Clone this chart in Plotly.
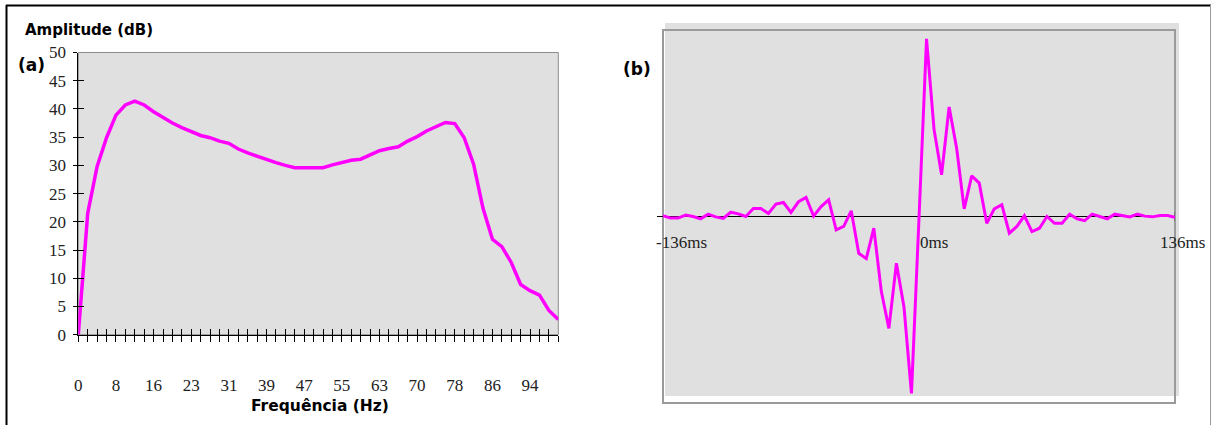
import plotly.graph_objects as go

# ---------------- data ----------------
# (a) amplitude spectrum, one value per frequency bin (bin width ~1.95 Hz)
amplitude_db = [0, 21.5, 29.8, 34.9, 38.9, 40.7, 41.4, 40.7, 39.5, 38.5,
                37.5, 36.7, 36.0, 35.3, 34.9, 34.3, 33.9, 32.9, 32.2, 31.6,
                31.0, 30.5, 30.0, 29.6, 29.6, 29.6, 29.6, 30.1, 30.5, 30.9,
                31.1, 31.9, 32.6, 33.0, 33.3, 34.3, 35.1, 36.1, 36.8, 37.6,
                37.4, 34.9, 30.2, 22.4, 16.9, 15.6, 12.8, 8.9, 7.8, 7.0,
                4.3, 2.7]
freq_bins = list(range(len(amplitude_db)))
freq_tick_text = ["0", "8", "16", "23", "31", "39", "47", "55", "63", "70", "78", "86", "94"]
freq_tick_step = 4
amp_ticks = [0, 5, 10, 15, 20, 25, 30, 35, 40, 45, 50]

# (b) wavelet in time, 4 ms sampling
time_ms = list(range(-136, 137, 4))
wavelet = [0.004, -0.009, -0.009, 0.008, 0.0, -0.013, 0.013, -0.002, -0.011, 0.024,
           0.015, 0.0, 0.045, 0.045, 0.017, 0.070, 0.079, 0.023, 0.083, 0.107,
           0.002, 0.056, 0.094, -0.075, -0.056, 0.032, -0.207, -0.237, -0.066, -0.423,
           -0.630, -0.263, -0.508, -0.996, -0.01, 1.0, 0.489, 0.235, 0.617, 0.385,
           0.043, 0.229, 0.188, -0.038, 0.043, 0.066, -0.094, -0.056, 0.004, -0.085,
           -0.066, 0.0, -0.038, -0.038, 0.013, -0.013, -0.023, 0.013, 0.0, -0.013,
           0.013, 0.006, -0.002, 0.013, 0.002, -0.002, 0.006, 0.006, -0.004]
time_tick_vals = [-136, 0, 136]
time_tick_text = ["-136ms", "0ms", "136ms"]
time_tick_shift = [-9, -1, -17]

# ---------------- layout helpers ----------------
W, H = 1212, 425
def px(x):
    return x / W
def py(y):
    return 1 - y / H

MAGENTA = "#FF00FF"
GRAYBG = "#E0E0E0"
SERIF = "Liberation Serif"
BOLDSANS = "DejaVu Sans"

fig = go.Figure()

fig.add_trace(go.Scatter(x=freq_bins, y=amplitude_db, mode="lines",
                         line=dict(color=MAGENTA, width=3.5),
                         xaxis="x", yaxis="y", showlegend=False, hoverinfo="skip"))
# helper (empty) trace so the overlay axes (inside tick halves) get drawn
fig.add_trace(go.Scatter(x=[None], y=[None], xaxis="x3", yaxis="y3",
                         showlegend=False, hoverinfo="skip"))
fig.add_trace(go.Scatter(x=time_ms, y=wavelet, mode="lines",
                         line=dict(color=MAGENTA, width=3),
                         xaxis="x2", yaxis="y2", showlegend=False, hoverinfo="skip"))

xdom_a = [px(78.3), px(558.3)]
ydom_a = [py(334.7), py(52.5)]
xdom_b = [px(663), px(1175)]
ydom_b = [py(403), py(30)]

freq_tick_vals = freq_bins
freq_tick_labels = []
k = 0
for i in freq_bins:
    if i % freq_tick_step == 0 and k < len(freq_tick_text):
        freq_tick_labels.append(freq_tick_text[k])
        k += 1
    else:
        freq_tick_labels.append("")

common_tick = dict(tickcolor="black", tickwidth=1, showgrid=False, zeroline=False, automargin=False)

fig.update_layout(
    width=W, height=H,
    margin=dict(l=0, r=0, t=0, b=0, pad=0),
    paper_bgcolor="white", plot_bgcolor="rgba(0,0,0,0)",
    xaxis=dict(domain=xdom_a, anchor="y", range=[0, len(amplitude_db) - 1],
               tickmode="array", tickvals=freq_tick_vals, ticktext=freq_tick_labels,
               ticks="outside", ticklen=6, showline=True, linecolor="black", linewidth=1,
               tickfont=dict(family=SERIF, size=17, color="#222"),
               ticklabelstandoff=29, **common_tick),
    yaxis=dict(domain=ydom_a, anchor="x", range=[0, 50],
               tickmode="array", tickvals=amp_ticks,
               ticks="outside", ticklen=4, showline=True, linecolor="black", linewidth=1,
               tickfont=dict(family=SERIF, size=17, color="#222"),
               ticklabelstandoff=4, **common_tick),
    xaxis3=dict(domain=xdom_a, anchor="y3", overlaying="x", range=[0, len(amplitude_db) - 1],
                tickmode="array", tickvals=freq_tick_vals, showticklabels=False,
                ticks="inside", ticklen=6, showline=False, **common_tick),
    yaxis3=dict(domain=ydom_a, anchor="x3", overlaying="y", range=[0, 50],
                tickmode="array", tickvals=amp_ticks, showticklabels=False,
                ticks="inside", ticklen=6, showline=False, **common_tick),
    xaxis2=dict(domain=xdom_b, anchor="y2", range=[-136, 136], visible=False, automargin=False),
    yaxis2=dict(domain=ydom_b, anchor="x2", range=[-1.05, 1.05], visible=False, automargin=False),
)

shapes = []
# panel (a) gray plot area with gray top/right frame
shapes.append(dict(type="rect", xref="x domain", yref="y domain", x0=0, x1=1, y0=0, y1=1,
                   fillcolor=GRAYBG, line=dict(color="#8C8C8C", width=1), layer="below"))
# panel (b) shifted gray fill and frame
shapes.append(dict(type="rect", xref="paper", yref="paper", x0=px(665), x1=px(1179),
                   y0=py(396), y1=py(23), fillcolor=GRAYBG, line=dict(width=0), layer="below"))
shapes.append(dict(type="rect", xref="x2 domain", yref="y2 domain", x0=0, x1=1, y0=0, y1=1,
                   fillcolor="rgba(0,0,0,0)", line=dict(color="#9A9A9A", width=2), layer="below"))
# panel (b) zero axis line
shapes.append(dict(type="line", xref="paper", yref="y2", x0=px(657), x1=px(1175), y0=0, y1=0,
                   line=dict(color="black", width=1), layer="below"))
shapes.append(dict(type="line", xref="x2", yref="paper", x0=136, x1=136, y0=py(212), y1=py(221),
                   line=dict(color="#555", width=1), layer="below"))
# outer figure border
shapes.append(dict(type="line", xref="paper", yref="paper", x0=px(6), x1=px(1211), y0=py(5.5), y1=py(5.5),
                   line=dict(color="black", width=2)))
shapes.append(dict(type="line", xref="paper", yref="paper", x0=px(6.5), x1=px(6.5), y0=py(5), y1=0,
                   line=dict(color="black", width=2)))
shapes.append(dict(type="line", xref="paper", yref="paper", x0=px(1210.5), x1=px(1210.5), y0=py(5), y1=0,
                   line=dict(color="#9A9A9A", width=1)))
fig.update_layout(shapes=shapes)

ann = []
ann.append(dict(text="<b>Amplitude (dB)</b>", xref="paper", yref="paper", x=px(23), y=py(30),
                xanchor="left", yanchor="middle", showarrow=False,
                font=dict(family=BOLDSANS, size=15, color="black")))
ann.append(dict(text="<b>(a)</b>", xref="paper", yref="paper", x=px(16), y=py(65),
                xanchor="left", yanchor="middle", showarrow=False,
                font=dict(family=BOLDSANS, size=17, color="black")))
ann.append(dict(text="<b>Frequência (Hz)</b>", xref="paper", yref="paper", x=px(320), y=py(406),
                xanchor="center", yanchor="middle", showarrow=False,
                font=dict(family=BOLDSANS, size=15.5, color="black")))
ann.append(dict(text="<b>(b)</b>", xref="paper", yref="paper", x=px(621), y=py(69),
                xanchor="left", yanchor="middle", showarrow=False,
                font=dict(family=BOLDSANS, size=17, color="black")))
for v, t, s in zip(time_tick_vals, time_tick_text, time_tick_shift):
    ann.append(dict(text=t, xref="x2", yref="y2", x=v, y=0, xanchor="left", yanchor="middle",
                    xshift=s, yshift=-26, showarrow=False,
                    font=dict(family=SERIF, size=17, color="#222")))
fig.update_layout(annotations=ann)

fig.write_html("out.html", config={"displayModeBar": False})
